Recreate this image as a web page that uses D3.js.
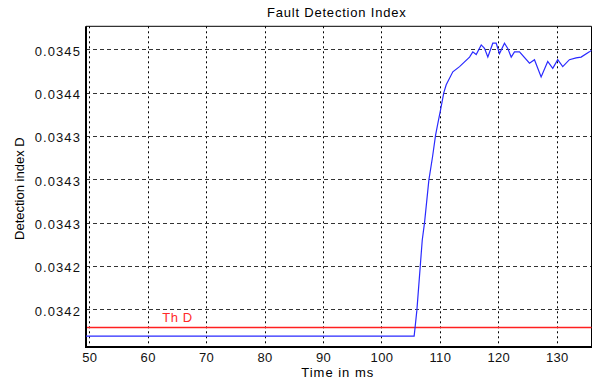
<!DOCTYPE html>
<html><head><meta charset="utf-8">
<script src="https://cdn.jsdelivr.net/npm/d3@7"></script>
<style>
body{margin:0;background:#fff}
svg{display:block}
text{font-family:"Liberation Sans",Arial,sans-serif}
</style>
</head><body>
<svg id="chart" width="592" height="387"></svg>
<script>
const timeMs = [49.4, 105.6, 105.76, 106.07, 106.65, 106.99, 107.38, 108.12, 108.75, 109.27, 109.56, 110.12, 110.68, 111.09, 112.22, 113.37, 115.08, 115.64, 116.22, 117.08, 117.64, 118.21, 119.06, 119.64, 120.21, 121.06, 121.62, 122.21, 122.77, 123.63, 125.34, 126.19, 127.33, 128.46, 129.32, 130.17, 131.03, 132.17, 133.32, 134.17, 135.59, 136];
const detectionD = [0.034169, 0.034169, 0.034179, 0.034199, 0.03425, 0.03428, 0.0343, 0.034349, 0.034376, 0.034401, 0.034411, 0.03443, 0.03445, 0.034459, 0.034474, 0.03448, 0.034491, 0.034497, 0.034494, 0.034505, 0.034501, 0.034491, 0.034507, 0.034507, 0.034495, 0.034507, 0.034501, 0.034491, 0.034497, 0.034497, 0.034484, 0.034488, 0.034468, 0.034486, 0.034478, 0.034488, 0.03448, 0.034488, 0.03449, 0.034491, 0.034497, 0.034499];
const thresholdD = 0.034179;
const thresholdLabel = "Th D";
const xTickValues = [50, 60, 70, 80, 90, 100, 110, 120, 130];
const yTickValues = [0.03450, 0.03445, 0.03440, 0.03435, 0.03430, 0.03425, 0.03420];
const yTickLabels = ["0.0345", "0.0344", "0.0343", "0.0343", "0.0343", "0.0342", "0.0342"];
const titleText = "Fault Detection Index";
const xLabel = "Time in ms";
const yLabel = "Detection index D";

const L = 86, R = 591.5, T = 26.3, B = 347;
const svg = d3.select("#chart");
const x = d3.scaleLinear().domain([49.45, 135.95]).range([L, R]);
const y = d3.scaleLinear().domain([0.0341565, 0.0345265]).range([B, T]);

svg.append("defs").append("clipPath").attr("id","clip")
  .append("rect").attr("x",L).attr("y",T).attr("width",R-L).attr("height",B-T);

// grid
const g = svg.append("g");
g.selectAll(".vg").data(xTickValues).join("line")
  .attr("x1", d=>Math.round(x(d))+0.5).attr("x2", d=>Math.round(x(d))+0.5)
  .attr("y1", T).attr("y2", B)
  .attr("stroke","#000").attr("stroke-width",1).attr("stroke-dasharray","2,3");
g.selectAll(".hg").data(yTickValues).join("line")
  .attr("y1", d=>Math.round(y(d))+0.5).attr("y2", d=>Math.round(y(d))+0.5)
  .attr("x1", L).attr("x2", R)
  .attr("stroke","#333").attr("stroke-width",1).attr("stroke-dasharray","4,3");

// axes with custom labels
const xAxis = d3.axisBottom(x).tickValues(xTickValues).tickSize(0).tickPadding(6);
const yAxis = d3.axisLeft(y).tickValues(yTickValues).tickSize(0).tickPadding(5)
  .tickFormat((d,i)=>yTickLabels[i]);
const gx = svg.append("g").attr("transform",`translate(0,${B})`).call(xAxis);
const gy = svg.append("g").attr("transform",`translate(${L},0)`).call(yAxis);
[gx,gy].forEach(a=>{
  a.select(".domain").remove();
  a.selectAll("text").attr("font-size","13px").attr("fill","#111")
    .attr("font-family","'Liberation Sans',Arial,sans-serif");
});
gx.selectAll("text").attr("letter-spacing","0.3px");
gy.selectAll("text").attr("dy","0.45em").attr("letter-spacing","1.1px");

// box
svg.append("line").attr("x1",L).attr("x2",R).attr("y1",T).attr("y2",T).attr("stroke","#000");
svg.append("line").attr("x1",R).attr("x2",R).attr("y1",T).attr("y2",B).attr("stroke","#000");
svg.append("line").attr("x1",L).attr("x2",R+0.5).attr("y1",B).attr("y2",B).attr("stroke","#000").attr("stroke-width",2);
svg.append("line").attr("x1",L).attr("x2",L).attr("y1",T).attr("y2",B+1).attr("stroke","#000").attr("stroke-width",2);

// threshold
const plot = svg.append("g");
const ty = y(thresholdD);
plot.append("line").attr("x1",L+1).attr("x2",R).attr("y1",ty).attr("y2",ty)
  .attr("stroke","#ff2020").attr("stroke-width",1.4);
svg.append("text").attr("x", x(62.5)).attr("y", ty-5).text(thresholdLabel)
  .attr("fill","#ff2a2a").attr("font-size","13px").attr("letter-spacing","0.6px");

// series
const line = d3.line().x((d,i)=>x(timeMs[i])).y(d=>y(d));
plot.append("g").attr("clip-path","url(#clip)").append("path").datum(detectionD).attr("d",line)
  .attr("fill","none").attr("stroke","#2a2aff").attr("stroke-width",1.2);

// labels
svg.append("text").attr("x",(L+R)/2-2).attr("y",17).attr("text-anchor","middle")
  .attr("font-size","13px").attr("letter-spacing","0.8px").text(titleText);
svg.append("text").attr("x",(L+R)/2-1).attr("y",377).attr("text-anchor","middle")
  .attr("font-size","13px").attr("letter-spacing","1px").text(xLabel);
svg.append("text").attr("transform",`translate(24,${(T+B)/2+2}) rotate(-90)`).attr("text-anchor","middle")
  .attr("font-size","13px").text(yLabel);
</script>
</body></html>
